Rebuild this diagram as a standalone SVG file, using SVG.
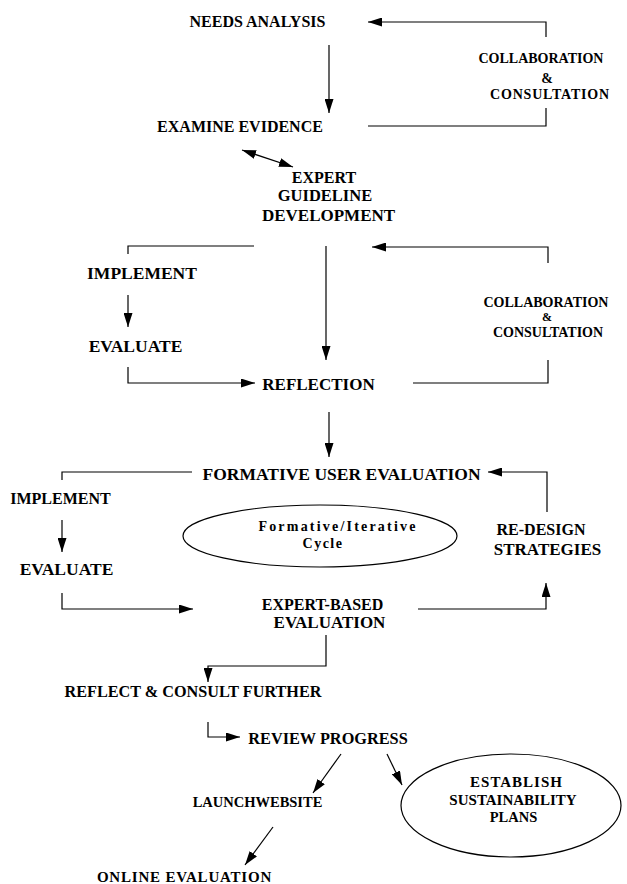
<svg xmlns="http://www.w3.org/2000/svg" width="627" height="884" viewBox="0 0 627 884">
<style>
text{font-family:"Liberation Serif","Times New Roman",serif;font-weight:bold;fill:#000;text-anchor:middle}
.c{fill:none;stroke:#000;stroke-width:1.2}
.a{marker-end:url(#ah)}
ellipse{fill:#fff;stroke:#000;stroke-width:1.2}
</style>
<defs>
<marker id="ah" markerUnits="userSpaceOnUse" markerWidth="15" markerHeight="9" refX="14" refY="4.5" orient="auto-start-reverse">
<path d="M0,0 L14,4.5 L0,9 z" fill="#000"/>
</marker>
</defs>
<rect width="627" height="884" fill="#fff"/>
<g id="connectors">
<path class="c a" d="M329,45 L329,113"/>
<path class="c" d="M368,126 L546,126 L546,108"/>
<path class="c a" d="M546,37 L546,22 L368,22"/>
<path class="c a" d="M242,150 L293,167" marker-start="url(#ah)"/>
<path class="c" d="M254,246 L128,246 L128,254"/>
<path class="c a" d="M128,295 L128,327"/>
<path class="c a" d="M128,367 L128,383 L255,383"/>
<path class="c a" d="M326,246 L326,360"/>
<path class="c" d="M413,383 L548,383 L548,360"/>
<path class="c a" d="M548,263 L548,247 L372,247"/>
<path class="c a" d="M329,412 L329,457"/>
<path class="c" d="M192,472 L62,472 L62,480"/>
<path class="c a" d="M62,520 L62,552"/>
<path class="c a" d="M62,593 L62,609 L193,609"/>
<path class="c a" d="M418,609 L546,609 L546,583"/>
<path class="c a" d="M547,512 L547,472 L488,472"/>
<path class="c a" d="M326,635 L326,666 L208,666 L208,682"/>
<path class="c a" d="M208,722 L208,737 L240,737"/>
<path class="c a" d="M341,754 L313,793"/>
<path class="c a" d="M387,754 L402,785"/>
<path class="c a" d="M273,827 L245,865"/>
</g>
<g id="needs-analysis"><text x="257.5" y="27" font-size="16">NEEDS ANALYSIS</text></g>
<g id="collab-1">
<text x="541" y="63" font-size="14">COLLABORATION</text>
<text x="547" y="83" font-size="14">&amp;</text>
<text x="550" y="99" font-size="14" letter-spacing="0.8">CONSULTATION</text>
</g>
<g id="examine-evidence"><text x="240" y="132" font-size="16">EXAMINE EVIDENCE</text></g>
<g id="expert-guideline">
<text x="324" y="183" font-size="16">EXPERT</text>
<text x="325" y="201" font-size="16.5">GUIDELINE</text>
<text x="328.5" y="221" font-size="17">DEVELOPMENT</text>
</g>
<g id="implement-1"><text x="142" y="279" font-size="17.5">IMPLEMENT</text></g>
<g id="evaluate-1"><text x="135.5" y="352" font-size="17.5">EVALUATE</text></g>
<g id="collab-2">
<text x="546" y="307" font-size="14">COLLABORATION</text>
<text x="547" y="321" font-size="12">&amp;</text>
<text x="548" y="337" font-size="14">CONSULTATION</text>
</g>
<g id="reflection"><text x="318.5" y="390" font-size="17">REFLECTION</text></g>
<g id="formative-user-evaluation"><text x="341.5" y="480" font-size="17.5">FORMATIVE USER EVALUATION</text></g>
<g id="implement-2"><text x="60.5" y="504" font-size="16">IMPLEMENT</text></g>
<g id="evaluate-2"><text x="66.5" y="575" font-size="17.5">EVALUATE</text></g>
<g id="formative-cycle">
<ellipse cx="320" cy="536" rx="137" ry="31"/>
<text x="338" y="531" font-size="14" letter-spacing="2.2">Formative/Iterative</text>
<text x="323" y="548" font-size="14" letter-spacing="1.5">Cycle</text>
</g>
<g id="re-design">
<text x="541" y="535" font-size="16">RE-DESIGN</text>
<text x="547.5" y="555" font-size="17">STRATEGIES</text>
</g>
<g id="expert-based">
<text x="322.5" y="610" font-size="16">EXPERT-BASED</text>
<text x="329.5" y="628" font-size="17">EVALUATION</text>
</g>
<g id="reflect-consult"><text x="193" y="697" font-size="16.2">REFLECT &amp; CONSULT FURTHER</text></g>
<g id="review-progress"><text x="328" y="744" font-size="16.3">REVIEW PROGRESS</text></g>
<g id="launch-website"><text x="257.5" y="807" font-size="14.5">LAUNCHWEBSITE</text></g>
<g id="sustainability">
<ellipse cx="511" cy="805.5" rx="110" ry="51.5"/>
<text x="516.5" y="787" font-size="15" letter-spacing="1">ESTABLISH</text>
<text x="513" y="805" font-size="15">SUSTAINABILITY</text>
<text x="513.5" y="822" font-size="14.5">PLANS</text>
</g>
<g id="online-evaluation"><text x="184.5" y="882" font-size="15" letter-spacing="0.8">ONLINE EVALUATION</text></g>
</svg>
